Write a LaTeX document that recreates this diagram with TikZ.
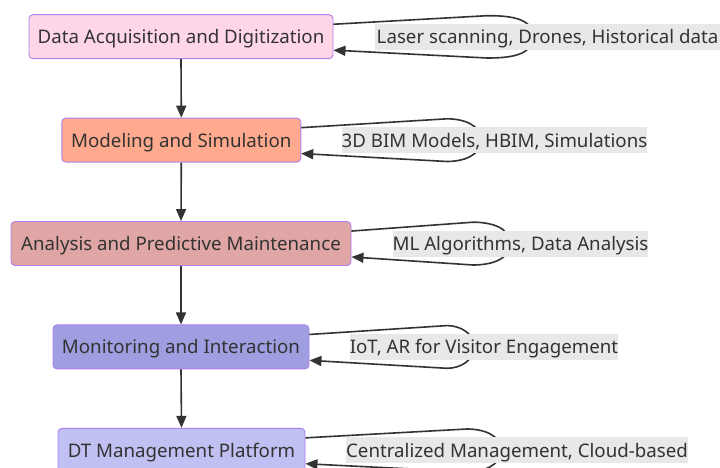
\documentclass[tikz,border=0pt]{standalone}
\usepackage{fontspec}
\setmainfont{Noto Sans}
\usetikzlibrary{arrows.meta}
\definecolor{txt}{HTML}{333333}
\definecolor{bord}{HTML}{B07EEC}
\definecolor{cA}{HTML}{FFD6E8}
\definecolor{cB}{HTML}{FFAA8E}
\definecolor{cC}{HTML}{E0A5A5}
\definecolor{cD}{HTML}{9E9EE0}
\definecolor{cE}{HTML}{C0C0F2}
\definecolor{lbg}{HTML}{E8E8E8}
\begin{document}
\begin{tikzpicture}[x=1pt,y=-1pt,
  box/.style={draw=bord,line width=0.9pt,rounded corners=4pt,minimum height=44pt,inner sep=0pt,text=txt,text height=14pt,text depth=0pt,font=\fontsize{18.7}{22}\selectfont},
  lab/.style={fill=lbg,inner sep=0pt,minimum height=26pt,text=txt,text height=14pt,text depth=0pt,font=\fontsize{18.7}{22}\selectfont},
  conn/.style={draw=txt,line width=1.6pt,-{Triangle[length=12pt,width=10pt]}},
  loopl/.style={draw=txt,line width=1.6pt,-{Triangle[length=12pt,width=10pt]}}]
\clip (0,0) rectangle (720,468);
\fill[white] (0,0) rectangle (720,468);
% nodes
\node[box,fill=cA,minimum width=304pt] (n1) at (181,36.7) {Data Acquisition and Digitization};
\node[box,fill=cB,minimum width=239pt] (n2) at (181.3,140.1) {Modeling and Simulation};
\node[box,fill=cC,minimum width=340pt] (n3) at (181,243.5) {Analysis and Predictive Maintenance};
\node[box,fill=cD,minimum width=256pt] (n4) at (181,346.9) {Monitoring and Interaction};
\node[box,fill=cE,minimum width=247pt] (n5) at (181.5,450.3) {DT Management Platform};
% vertical arrows
\draw[conn] (n1.south) -- (n2.north);
\draw[conn] (n2.south) -- (n3.north);
\draw[conn] (n3.south) -- (n4.north);
\draw[conn] (n4.south) -- (n5.north);
% self loops
\coordinate (p1) at (487,15.7); \coordinate (r1) at (533,36.7); \coordinate (q1) at (487,58);
\coordinate (p2) at (447,118.8); \coordinate (r2) at (481,140.1); \coordinate (q2) at (447,161.5);
\coordinate (p3) at (473,222.2); \coordinate (r3) at (510,243.5); \coordinate (q3) at (473,265);
\coordinate (p4) at (447,325.6); \coordinate (r4) at (474,346.9); \coordinate (q4) at (447,368.3);
\coordinate (p5) at (467,429); \coordinate (r5) at (501,450.3); \coordinate (q5) at (467,471.7);
\foreach \i in {1,...,5}{
  \draw[loopl] ([yshift=-10pt]n\i.north east) -- (p\i) to[out=0,in=90] (r\i) to[out=-90,in=0] (q\i) -- ([yshift=9pt]n\i.south east);
}
% labels
\node[lab,minimum width=345pt] (l1) at (547.5,36.7) {Laser scanning, Drones, Historical data};
\node[lab,minimum width=305pt] (l2) at (494.5,140.1) {3D BIM Models, HBIM, Simulations};
\node[lab,minimum width=255pt] (l3) at (520.5,243.5) {ML Algorithms, Data Analysis};
\node[lab,minimum width=268pt] (l4) at (484,346.9) {IoT, AR for Visitor Engagement};
\node[lab,minimum width=342pt] (l5) at (517,450.3) {Centralized Management, Cloud-based};
\end{tikzpicture}
\end{document}
